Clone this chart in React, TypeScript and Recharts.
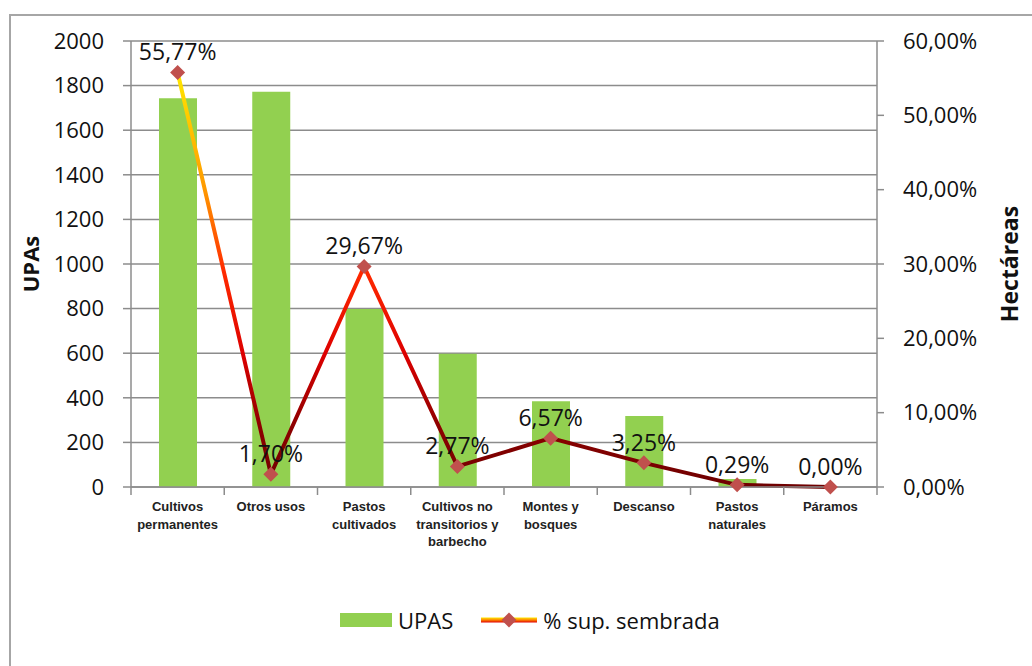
import React from 'react';
import {
  ComposedChart,
  Bar,
  Line,
  XAxis,
  YAxis,
  CartesianGrid,
  LabelList,
} from 'recharts';

const categories = [
  'Cultivos permanentes',
  'Otros usos',
  'Pastos cultivados',
  'Cultivos no transitorios y barbecho',
  'Montes y bosques',
  'Descanso',
  'Pastos naturales',
  'Páramos',
];

// tick labels broken into lines like the original
const tickLabelLines = [
  ['Cultivos', 'permanentes'],
  ['Otros usos'],
  ['Pastos', 'cultivados'],
  ['Cultivos no', 'transitorios y', 'barbecho'],
  ['Montes y', 'bosques'],
  ['Descanso'],
  ['Pastos', 'naturales'],
  ['Páramos'],
];

const upas = [1743, 1772, 798, 598, 385, 318, 36, 0];
const pctSown = [55.77, 1.7, 29.67, 2.77, 6.57, 3.25, 0.29, 0.0];

const leftTicks = [0, 200, 400, 600, 800, 1000, 1200, 1400, 1600, 1800, 2000];
const rightTicks = [0, 10, 20, 30, 40, 50, 60];

const chartData = categories.map((name, i) => ({
  name,
  upas: upas[i],
  pct: pctSown[i],
}));

const GRID = '#8c8c8c';
const BAR = '#92D050';
const MARKER = '#C0504D';
const NUM_FONT = '"Open Sans", Lato, sans-serif';

const fmtPct = (v: number) => `${v.toFixed(2).replace('.', ',')}%`;

function Diamond(props: any) {
  const { cx, cy, index } = props;
  if (cx == null || cy == null) return null;
  const r = 7.5;
  return (
    <polygon
      key={`d-${index}`}
      points={`${cx},${cy - r} ${cx + r},${cy} ${cx},${cy + r} ${cx - r},${cy}`}
      fill={MARKER}
    />
  );
}

function CategoryTick(props: any) {
  const { x, y, index, width } = props;
  const half = width / categories.length / 2;
  const lines = tickLabelLines[index] || [];
  return (
    <g>
      <line x1={x - half} x2={x - half} y1={y - 8} y2={y} stroke={GRID} strokeWidth={1.5} />
      {index === categories.length - 1 && (
        <line x1={x + half} x2={x + half} y1={y - 8} y2={y} stroke={GRID} strokeWidth={1.5} />
      )}
      <text
        x={x}
        y={y}
        textAnchor="middle"
        fontFamily='"Liberation Sans", Arial, sans-serif'
        fontWeight="bold"
        fontSize={13}
        fill="#222"
      >
        {lines.map((ln: string, i: number) => (
          <tspan key={i} x={x} dy={i === 0 ? 16 : 17.5}>
            {ln}
          </tspan>
        ))}
      </text>
    </g>
  );
}

function Legend() {
  return (
    <div
      style={{
        position: 'absolute',
        left: 340,
        top: 605,
        height: 30,
        display: 'flex',
        alignItems: 'center',
        fontFamily: NUM_FONT,
        fontSize: 22,
        color: '#111',
      }}
    >
      <div style={{ width: 52, height: 14, background: BAR }} />
      <span style={{ marginLeft: 6 }}>UPAS</span>
      <svg width={58} height={20} style={{ marginLeft: 28 }}>
        <defs>
          <linearGradient id="legendGrad" x1="0" y1="0" x2="0" y2="1">
            <stop offset="0%" stopColor="#FFE600" />
            <stop offset="45%" stopColor="#FF9000" />
            <stop offset="100%" stopColor="#E00000" />
          </linearGradient>
        </defs>
        <rect x={0} y={7.5} width={56} height={5} fill="url(#legendGrad)" />
        <polygon points="28,2.5 35.5,10 28,17.5 20.5,10" fill={MARKER} />
      </svg>
      <span style={{ marginLeft: 4 }}>% sup. sembrada</span>
    </div>
  );
}

export default function App() {
  return (
    <div style={{ position: 'absolute', left: 0, top: 0, width: 1032, height: 666, background: '#fff', overflow: 'hidden' }}>
      <div
        style={{
          position: 'absolute',
          left: 9,
          top: 14,
          width: 1040,
          height: 680,
          border: '2px solid #a6a6a6',
        }}
      />
      <div style={{ position: 'absolute', left: 0, top: 0 }}>
        <ComposedChart
          width={1032}
          height={666}
          data={chartData}
          margin={{ top: 41, right: 0, bottom: 0, left: 0 }}
        >
          <defs>
            <linearGradient id="pctGrad" x1="0" y1="0" x2="0" y2="1">
              <stop offset="0%" stopColor="#FFE800" />
              <stop offset="28%" stopColor="#FF9A00" />
              <stop offset="48%" stopColor="#FF2A00" />
              <stop offset="68%" stopColor="#DD0000" />
              <stop offset="85%" stopColor="#8E0000" />
              <stop offset="100%" stopColor="#6E0000" />
            </linearGradient>
          </defs>
          <CartesianGrid
            yAxisId="left"
            vertical={false}
            stroke={GRID}
            strokeWidth={1.5}
          />
          <XAxis
            dataKey="name"
            height={179}
            axisLine={{ stroke: GRID, strokeWidth: 1.5 }}
            tickLine={false}
            tickSize={8}
            tickMargin={0}
            interval={0}
            tick={<CategoryTick />}
          />
          <YAxis
            yAxisId="left"
            width={131}
            domain={[0, 2000]}
            ticks={leftTicks}
            interval={0}
            axisLine={{ stroke: GRID, strokeWidth: 1.5 }}
            tickLine={{ stroke: GRID, strokeWidth: 1.5 }}
            tickSize={8}
            tickMargin={19}
            tick={{ fontFamily: NUM_FONT, fontSize: 22, fill: '#111' }}
            label={{
              value: 'UPAs',
              angle: -90,
              position: 'center',
              dx: -34,
              style: { fontFamily: NUM_FONT, fontWeight: 'bold', fontSize: 22, fill: '#111' },
            }}
          />
          <YAxis
            yAxisId="pct"
            orientation="right"
            width={155}
            domain={[0, 60]}
            ticks={rightTicks}
            interval={0}
            tickFormatter={fmtPct}
            axisLine={{ stroke: GRID, strokeWidth: 1.5 }}
            tickLine={{ stroke: GRID, strokeWidth: 1.5 }}
            tickSize={7}
            tickMargin={19}
            tick={{ fontFamily: NUM_FONT, fontSize: 22, fill: '#111', textAnchor: 'start' }}
            label={{
              value: 'Hectáreas',
              angle: -90,
              position: 'center',
              dx: 55,
              style: { fontFamily: NUM_FONT, fontWeight: 'bold', fontSize: 23, fill: '#111' },
            }}
          />
          <Bar
            yAxisId="left"
            dataKey="upas"
            fill={BAR}
            barSize={38}
            isAnimationActive={false}
          />
          <Line
            yAxisId="pct"
            type="linear"
            dataKey="pct"
            stroke="url(#pctGrad)"
            strokeWidth={4}
            dot={<Diamond />}
            activeDot={false}
            isAnimationActive={false}
          >
            <LabelList
              dataKey="pct"
              position="top"
              offset={12}
              formatter={(v: any) => fmtPct(Number(v))}
              style={{ fontFamily: NUM_FONT, fontSize: 23, fill: '#111' }}
            />
          </Line>
        </ComposedChart>
      </div>
      <Legend />
    </div>
  );
}
